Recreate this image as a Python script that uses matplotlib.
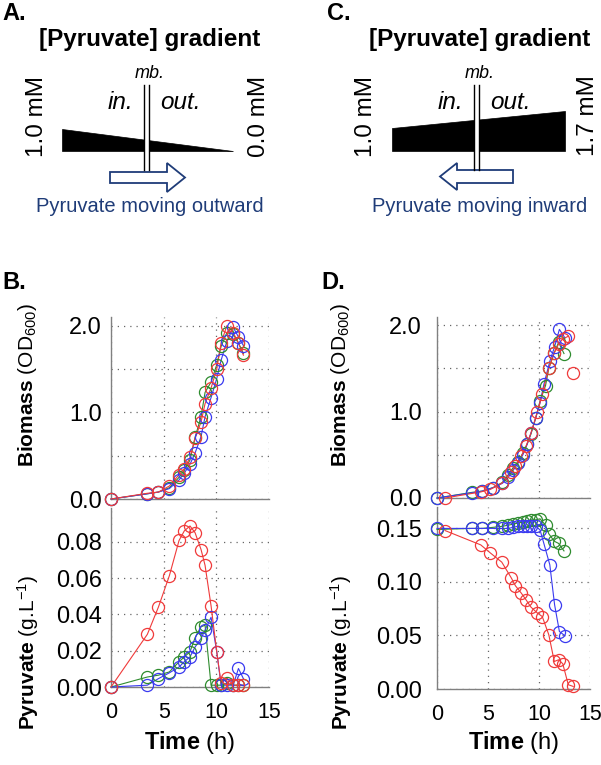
import numpy as np
import matplotlib
matplotlib.use('Agg')
import matplotlib.pyplot as plt
from matplotlib.patches import Polygon, Rectangle, FancyArrow

plt.rcParams['font.family'] = ['Liberation Sans', 'DejaVu Sans']
plt.rcParams['mathtext.fontset'] = 'custom'
plt.rcParams['mathtext.rm'] = 'Liberation Sans'
plt.rcParams['mathtext.bf'] = 'Liberation Sans:bold'
plt.rcParams['mathtext.it'] = 'Liberation Sans:italic'

# ---- data: panel B (pyruvate moving outward) ----
tB = [0, 3.45, 4.5, 5.54, 6.46, 6.96, 7.5, 7.98, 8.55, 8.93, 9.5, 10.04, 10.45, 11.0, 11.6, 12.1, 12.57]
B_od_red = [0.0, 0.066, 0.08, 0.15, 0.28, 0.35, 0.48, 0.70, 0.89, 1.10, 1.28, 1.50, 1.80, 2.00, 1.92, 1.80, 1.66]
B_od_blue = [0.0, 0.06, 0.08, 0.12, 0.22, 0.30, 0.40, 0.53, 0.72, 0.95, 1.17, 1.39, 1.60, 1.82, 1.98, 1.87, 1.77]
B_od_green = [0.0, 0.06, 0.08, 0.13, 0.25, 0.33, 0.45, 0.71, 0.95, 1.23, 1.35, 1.55, 1.76, 1.92, 1.90, 1.80, 1.68]
B_pyr_red = [0.0, 0.029, 0.044, 0.0613, 0.0807, 0.086, 0.0887, 0.085, 0.0757, 0.067, 0.0447, 0.0194, 0.002, 0.005, 0.001, 0.001, 0.001]
B_pyr_blue = [0.0, 0.001, 0.0046, 0.0078, 0.011, 0.0139, 0.0166, 0.022, 0.0268, 0.0314, 0.0384, 0.0194, 0.001, 0.001, 0.001, 0.0102, 0.0046]
B_pyr_green = [0.0, 0.0055, 0.0065, 0.0083, 0.0139, 0.0166, 0.0194, 0.0271, 0.0332, 0.034, 0.001, 0.001, 0.001, 0.002, 0.001, 0.001, 0.001]

# ---- data: panel D (pyruvate moving inward) ----
tD_green = [0, 3.43, 4.44, 5.49, 6.42, 6.99, 7.46, 7.94, 8.42, 8.83, 9.21, 9.69, 10.1, 10.64, 10.96, 11.5, 11.92, 12.45]
tD_blue = [0, 3.43, 4.44, 5.49, 6.42, 6.99, 7.46, 7.94, 8.42, 8.83, 9.21, 9.69, 10.1, 10.49, 11.06, 11.53, 12.0, 12.55]
tD_red = [0.79, 4.29, 5.24, 6.35, 7.3, 7.69, 8.26, 8.73, 9.21, 9.85, 10.32, 10.96, 11.5, 11.92, 12.33, 12.87, 13.35]
D_od_green = [0.0, 0.065, 0.08, 0.12, 0.18, 0.27, 0.35, 0.42, 0.52, 0.62, 0.74, 0.93, 1.12, 1.30, 1.50, 1.68, 1.80, 1.67]
D_od_blue = [0.0, 0.06, 0.08, 0.12, 0.17, 0.24, 0.32, 0.40, 0.50, 0.62, 0.75, 0.93, 1.10, 1.32, 1.58, 1.75, 1.95, 1.85]
D_od_red = [0.0, 0.07, 0.10, 0.17, 0.30, 0.37, 0.48, 0.60, 0.75, 1.00, 1.20, 1.50, 1.68, 1.78, 1.84, 1.87, 1.44]
D_pyr_green = [0.149, 0.150, 0.150, 0.151, 0.152, 0.153, 0.154, 0.155, 0.156, 0.157, 0.158, 0.158, 0.159, 0.153, 0.145, 0.138, 0.136, 0.129]
D_pyr_blue = [0.150, 0.150, 0.150, 0.150, 0.150, 0.150, 0.151, 0.152, 0.152, 0.152, 0.152, 0.152, 0.1486, 0.1355, 0.116, 0.0786, 0.0537, 0.0497]
D_pyr_red = [0.148, 0.1346, 0.127, 0.1185, 0.1035, 0.0964, 0.0896, 0.0833, 0.0765, 0.0709, 0.0677, 0.0507, 0.0257, 0.0273, 0.0236, 0.004, 0.0024]

red = '#F03A3A'
blue = '#3A3AF0'
green = '#2E8B2E'
navy = '#1F3C78'
W, H = 601, 765

fig = plt.figure(figsize=(W/100, H/100), dpi=100)

# overlay axis in pixel coordinates for schematics and labels
ax0 = fig.add_axes([0, 0, 1, 1])
ax0.set_xlim(0, W)
ax0.set_ylim(H, 0)
ax0.axis('off')


def box(l, t, r, b):
    return [l/W, (H-b)/H, (r-l)/W, (b-t)/H]


def style(ax, ylim, yticks, ylabels, pad, xlabels):
    ax.set_xlim(0, 15)
    ax.set_ylim(*ylim)
    ax.set_xticks([0, 5, 10, 15])
    ax.set_yticks(yticks)
    ax.set_yticklabels(ylabels)
    if not xlabels:
        ax.set_xticklabels([])
    for s in ['top', 'right']:
        ax.spines[s].set_visible(False)
    for s in ['left', 'bottom']:
        ax.spines[s].set_color('#808080')
        ax.spines[s].set_linewidth(1.0)
    ax.grid(True, ls=(0, (1, 4)), color='#666666', lw=0.9)
    ax.tick_params(length=0)
    ax.tick_params(axis='y', pad=pad, labelsize=17)
    ax.tick_params(axis='x', pad=11, labelsize=15.5)
    ax.patch.set_alpha(0)


def series(ax, t, y, c, line_upto=None):
    n = len(t) if line_upto is None else line_upto
    ax.plot(t[:n], y[:n], '-', color=c, lw=0.8, zorder=3, clip_on=False)
    ax.plot(t, y, 'o', mfc='none', mec=c, ms=8.7, mew=0.9, zorder=4, clip_on=False)


axB1 = fig.add_axes(box(111, 317, 269, 499))
axB2 = fig.add_axes(box(111, 508, 269, 687))
axD1 = fig.add_axes(box(437, 317, 590, 498))
axD2 = fig.add_axes(box(437, 507, 590, 689))

style(axB1, (0, 2.1), [0, 0.5, 1, 1.5, 2], ['0.0', '', '1.0', '', '2.0'], 6.5, False)
style(axB2, (0, 0.0986), [0, 0.02, 0.04, 0.06, 0.08], ['0.00', '0.02', '0.04', '0.06', '0.08'], 6.5, True)
style(axD1, (0, 2.093), [0, 0.5, 1, 1.5, 2], ['0.0', '', '1.0', '', '2.0'], 11, False)
style(axD2, (0, 0.170), [0, 0.05, 0.10, 0.15], ['0.00', '0.05', '0.10', '0.15'], 11, True)

series(axB1, tB, B_od_green, green)
series(axB1, tB, B_od_blue, blue)
series(axB1, tB, B_od_red, red)
series(axB2, tB, B_pyr_green, green)
series(axB2, tB, B_pyr_blue, blue)
series(axB2, tB, B_pyr_red, red)

series(axD1, tD_green, D_od_green, green)
series(axD1, tD_blue, D_od_blue, blue)
series(axD1, tD_red, D_od_red, red, line_upto=len(tD_red) - 1)
series(axD2, tD_green, D_pyr_green, green)
series(axD2, tD_blue, D_pyr_blue, blue)
series(axD2, tD_red, D_pyr_red, red)

# axis labels
for x in (28, 341):
    ax0.text(x, 385, r'$\mathbf{Biomass}$ (OD$_{600}$)', rotation=90, ha='center', va='center', fontsize=15)
    ax0.text(x, 653, r'$\mathbf{Pyruvate}$ (g.L$^{\mathrm{-}1}$)', rotation=90, ha='center', va='center', fontsize=15)
ax0.text(190, 743, r'$\mathbf{Time}$ (h)', ha='center', va='center', fontsize=17)
ax0.text(514, 743, r'$\mathbf{Time}$ (h)', ha='center', va='center', fontsize=17)

# panel letters
ax0.text(2, 13, 'A.', fontsize=17, fontweight='bold', va='center', ha='left')
ax0.text(327, 13, 'C.', fontsize=17, fontweight='bold', va='center', ha='left')
ax0.text(2, 282, 'B.', fontsize=17, fontweight='bold', va='center', ha='left')
ax0.text(321, 282, 'D.', fontsize=17, fontweight='bold', va='center', ha='left')


def membrane(xl):
    ax0.add_patch(Rectangle((xl, 85), 5, 85, fc='white', ec='none'))
    ax0.plot([xl, xl], [85, 170], color='black', lw=1.0)
    ax0.plot([xl + 5, xl + 5], [85, 170], color='black', lw=1.0)


# schematic A: outward gradient
ax0.text(150, 39, '[Pyruvate] gradient', fontsize=17.5, fontweight='bold', ha='center', va='center')
ax0.add_patch(Polygon([(62, 129), (62, 151), (233, 151)], closed=True, fc='black', ec='black', lw=0.5))
membrane(144)
ax0.text(150, 73, 'mb.', fontsize=13, style='italic', ha='center', va='center')
ax0.text(120, 102, 'in.', fontsize=17.5, style='italic', ha='center', va='center')
ax0.text(180, 102, 'out.', fontsize=17.5, style='italic', ha='center', va='center')
ax0.text(37, 116, '1.0 mM', fontsize=17.5, rotation=90, ha='center', va='center')
ax0.text(259, 116, '0.0 mM', fontsize=17.5, rotation=90, ha='center', va='center')
ax0.add_patch(FancyArrow(110, 177.5, 75, 0, width=11, head_width=29, head_length=18,
                         length_includes_head=True, fc='white', ec=navy, lw=1.3))
ax0.text(150, 206, 'Pyruvate moving outward', fontsize=14.5, color=navy, ha='center', va='center')

# schematic C: inward gradient
ax0.text(480, 39, '[Pyruvate] gradient', fontsize=17.5, fontweight='bold', ha='center', va='center')
ax0.add_patch(Polygon([(392, 128), (392, 151), (565, 151), (565, 111)], closed=True, fc='black', ec='black', lw=0.5))
membrane(474)
ax0.text(480, 73, 'mb.', fontsize=13, style='italic', ha='center', va='center')
ax0.text(450, 102, 'in.', fontsize=17.5, style='italic', ha='center', va='center')
ax0.text(510, 102, 'out.', fontsize=17.5, style='italic', ha='center', va='center')
ax0.text(366, 116, '1.0 mM', fontsize=17.5, rotation=90, ha='center', va='center')
ax0.text(588, 116, '1.7 mM', fontsize=17.5, rotation=90, ha='center', va='center')
ax0.add_patch(FancyArrow(513, 176.5, -73, 0, width=13, head_width=27, head_length=17,
                         length_includes_head=True, fc='white', ec=navy, lw=1.3))
ax0.text(480, 206, 'Pyruvate moving inward', fontsize=14.5, color=navy, ha='center', va='center')

fig.savefig('out.png', dpi=100)
